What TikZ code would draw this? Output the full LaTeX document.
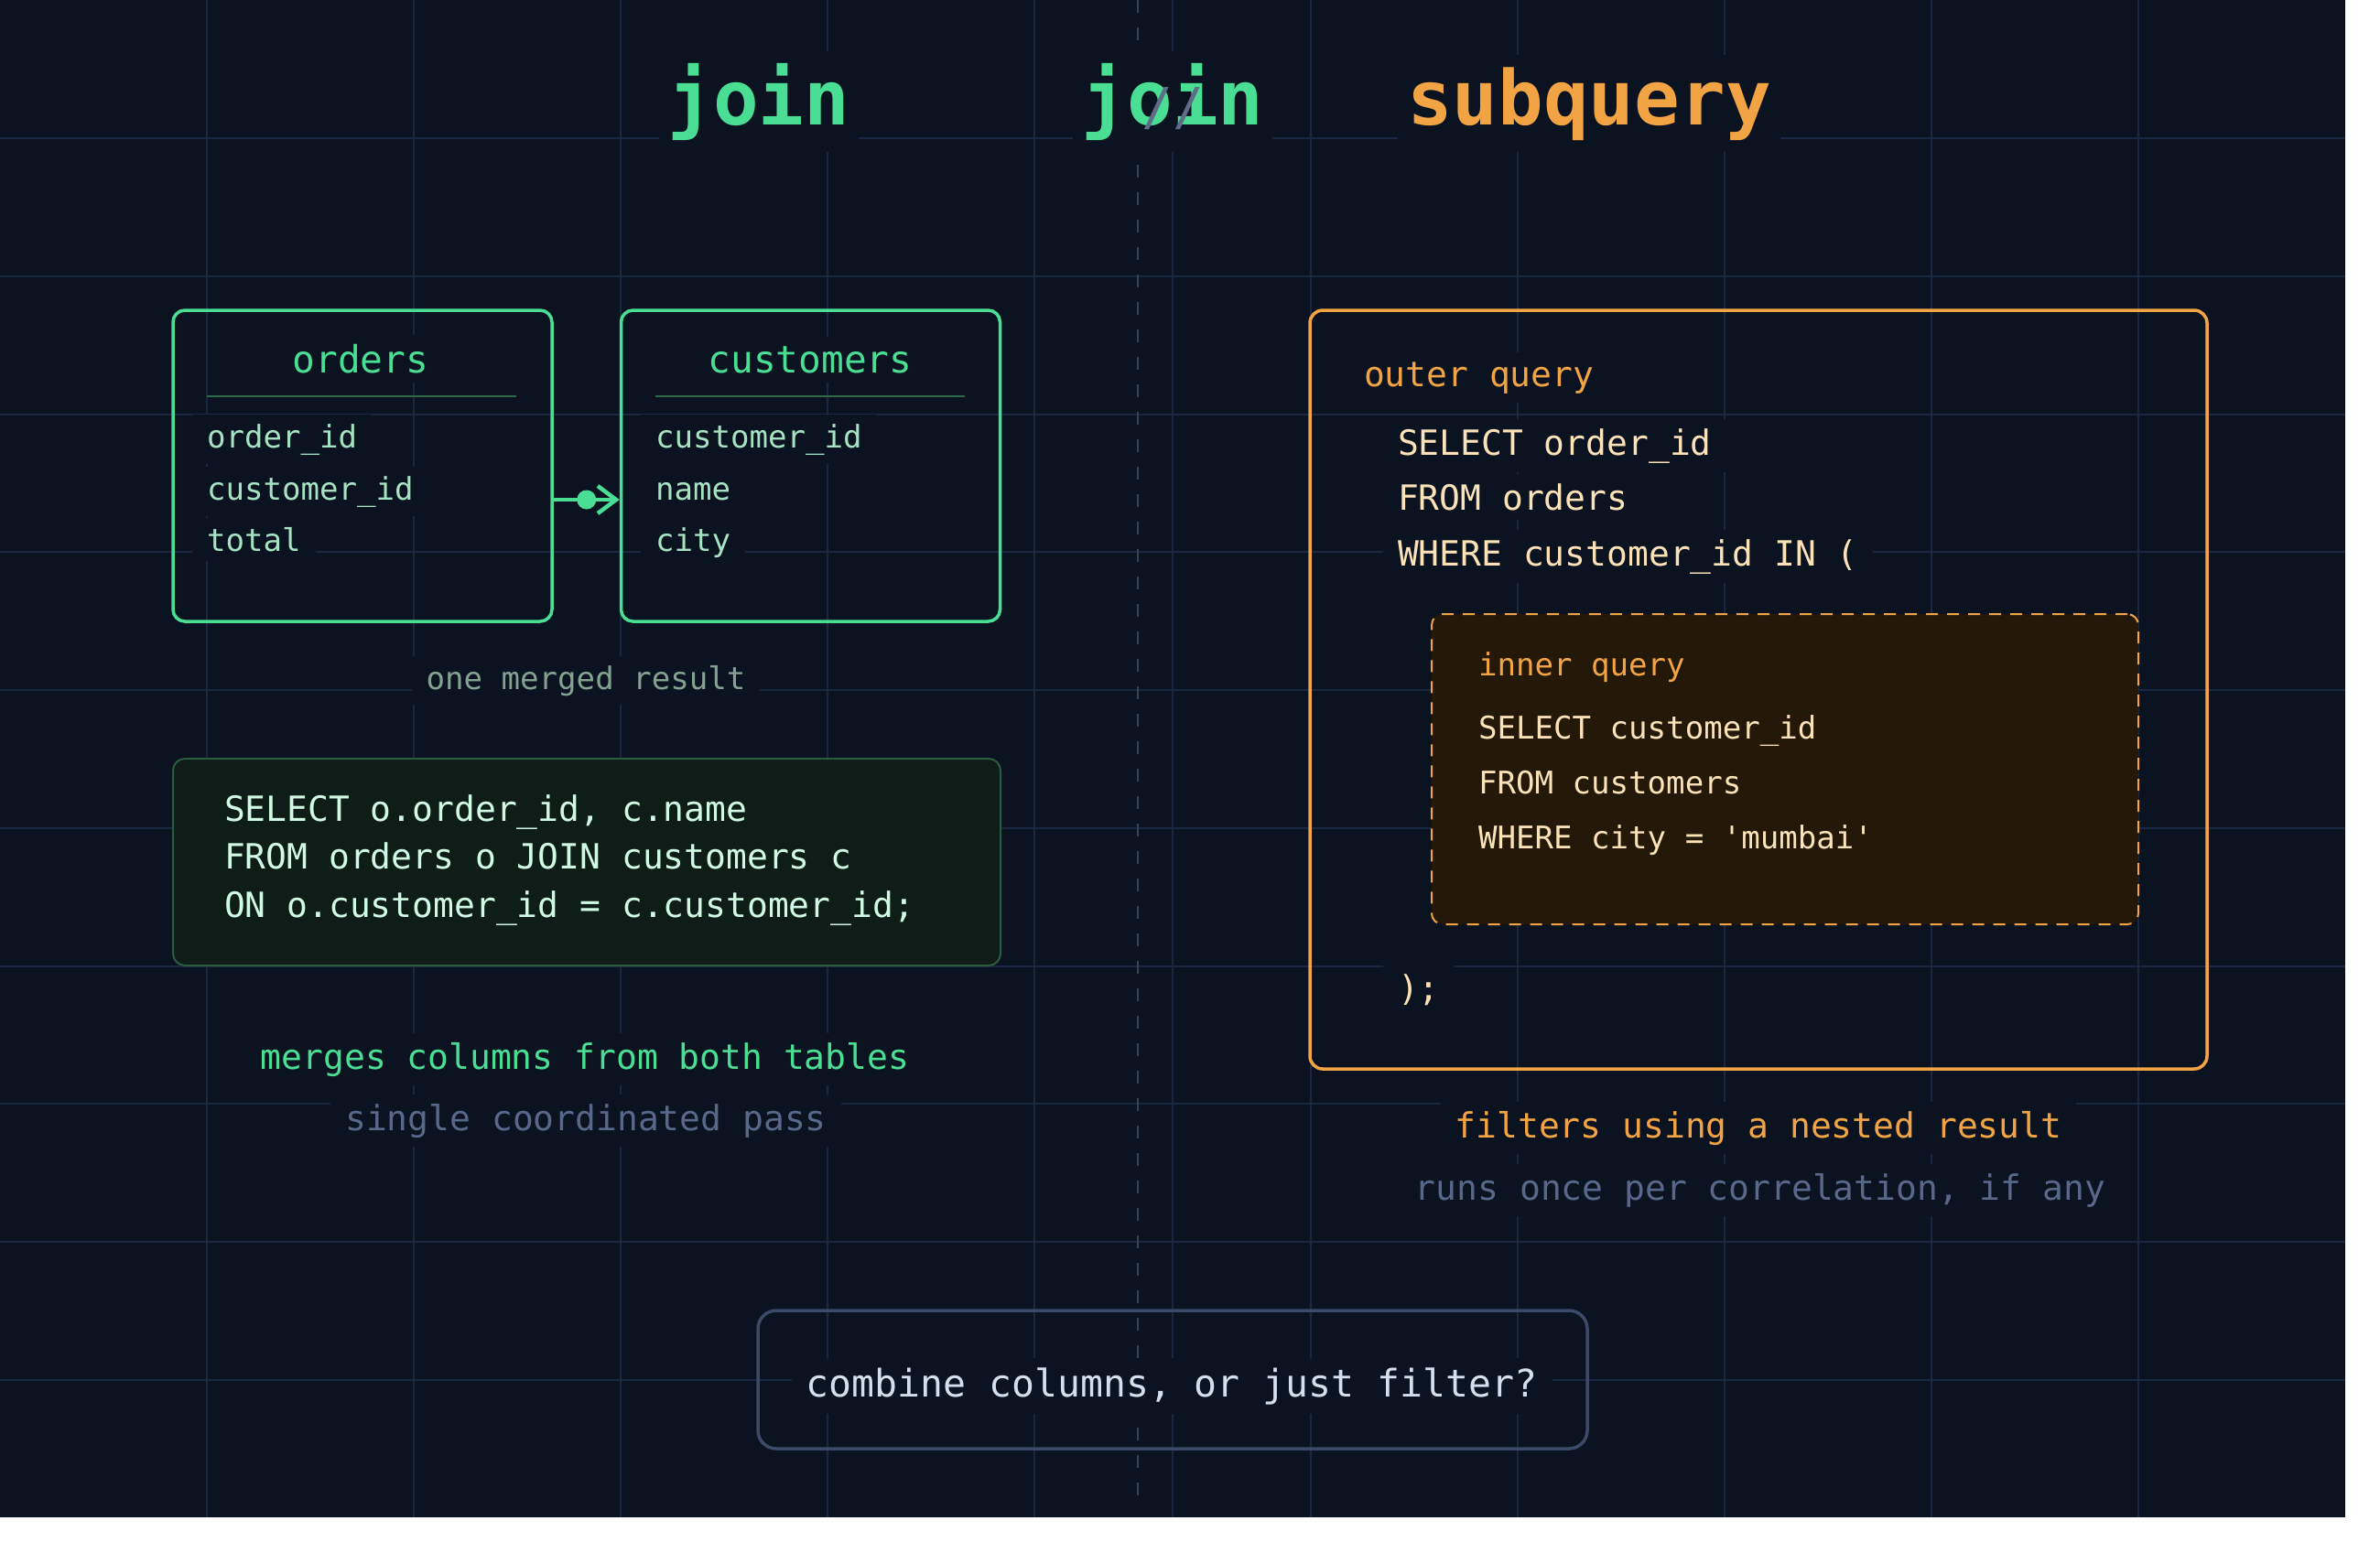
\documentclass[tikz,border=0pt]{standalone}
\usepackage{fontspec}
\setmonofont{DejaVu Sans Mono}
\usetikzlibrary{arrows.meta}

\definecolor{bg}{HTML}{0B1220}
\definecolor{gridc}{HTML}{1A2740}
\definecolor{divc}{HTML}{34425C}
\definecolor{joinc}{HTML}{4ADE95}
\definecolor{fieldc}{HTML}{A6E3C3}
\definecolor{sepc}{HTML}{2E6A4A}
\definecolor{codec}{HTML}{D1FAE5}
\definecolor{codebg}{HTML}{0F1D18}
\definecolor{codeln}{HTML}{2A5C40}
\definecolor{subc}{HTML}{F2A444}
\definecolor{peach}{HTML}{FCE2B8}
\definecolor{innerbg}{HTML}{241808}
\definecolor{mutec}{HTML}{58688A}
\definecolor{notec}{HTML}{83A292}
\definecolor{askln}{HTML}{3B4A66}
\definecolor{askc}{HTML}{D3DEEF}
\definecolor{slashc}{HTML}{5F6C88}

\newcommand{\setfs}[1]{\fontsize{#1}{#1}\selectfont}

\tikzset{
  gridline/.style={draw=gridc, line width=0.015cm},
  divider/.style={draw=divc, line width=0.02cm, dash pattern=on 0.14cm off 0.16cm},
  title/.style={font=\ttfamily\bfseries\setfs{23.5}, fill=bg, inner xsep=0.1cm, inner ysep=0.13cm, anchor=base},
  knock/.style={fill=bg, inner xsep=0.16cm, inner ysep=0.1cm},
  tablebox/.style={draw=joinc, line width=0.035cm, rounded corners=0.13cm,
    minimum width=4.14cm, minimum height=3.40cm, inner sep=0pt},
  tabtitle/.style={knock, font=\ttfamily\setfs{11.7}, text=joinc, anchor=base},
  field/.style={knock, font=\ttfamily\setfs{9.7}, text=fieldc, anchor=text},
  sepline/.style={draw=sepc, line width=0.015cm},
  fk/.style={draw=joinc, line width=0.045cm, -{Straight Barb[length=0.2cm,width=0.3cm]}},
  fkdot/.style={circle, fill=joinc, minimum size=0.21cm, inner sep=0pt},
  codebox/.style={draw=codeln, fill=codebg, line width=0.02cm, rounded corners=0.13cm, inner sep=0pt},
  joincode/.style={font=\ttfamily\setfs{10.8}, text=codec, anchor=text, inner sep=0pt},
  caption/.style={knock, font=\ttfamily\setfs{10.8}, anchor=base},
  note/.style={knock, font=\ttfamily\setfs{9.7}, text=notec, anchor=base},
  outerbox/.style={draw=subc, line width=0.035cm, rounded corners=0.14cm, inner sep=0pt},
  innerbox/.style={draw=subc, fill=innerbg, line width=0.02cm, rounded corners=0.12cm,
    dash pattern=on 0.13cm off 0.10cm, inner sep=0pt},
  outerlbl/.style={knock, font=\ttfamily\setfs{10.8}, text=subc, anchor=text},
  outercode/.style={knock, font=\ttfamily\setfs{10.8}, text=peach, anchor=text},
  innerlbl/.style={font=\ttfamily\setfs{9.7}, text=subc, anchor=text, inner sep=0pt},
  innercode/.style={font=\ttfamily\setfs{9.7}, text=peach, anchor=text, inner sep=0pt},
  askbox/.style={draw=askln, line width=0.035cm, rounded corners=0.2cm, inner sep=0pt},
}

\begin{document}
\begin{tikzpicture}[x=1cm,y=-1cm]
  \useasboundingbox (0,0) rectangle (26,16.96);
  \fill[white] (0,0) rectangle (26,16.96);
  \fill[bg] (0,0) rectangle (25.62,16.58);

  % grid behind everything
  \foreach \gx in {2.26,4.52,6.78,9.04,11.30,12.81,14.32,16.58,18.84,21.10,23.36}
    \draw[gridline] (\gx,0) -- (\gx,16.58);
  \foreach \gy in {1.51,3.02,4.53,6.03,7.54,9.05,10.56,12.06,13.57,15.08}
    \draw[gridline] (0,\gy) -- (25.62,\gy);
  \draw[divider] (12.43,0) -- (12.43,16.42);

  % headings
  \node[title, text=joinc] (hjoin) at (8.29,1.36) {join};
  \node[title, text=joinc] (hmid) at (12.81,1.36) {join};
  \node[font=\ttfamily\setfs{16}, text=slashc, inner sep=0pt] (hsep) at (12.81,1.185) {//};
  \node[title, text=subc] (hsub) at (17.36,1.36) {subquery};

  % join side: two tables
  \node[tablebox] (orders) at (3.96,5.09) {};
  \node[tablebox] (customers) at (8.855,5.09) {};
  \node[tabtitle] (ordersT) at (3.94,4.07) {orders};
  \node[tabtitle] (customersT) at (8.85,4.07) {customers};
  \draw[sepline] (2.26,4.33) -- (5.64,4.33);
  \draw[sepline] (7.16,4.33) -- (10.54,4.33);

  \node[field] (ooid) at (2.26,4.89) {order\_id};
  \node[field] (ocid) at (2.26,5.46) {customer\_id};
  \node[field] (ototal) at (2.26,6.02) {total};
  \node[field] (ccid) at (7.16,4.89) {customer\_id};
  \node[field] (cname) at (7.16,5.46) {name};
  \node[field] (ccity) at (7.16,6.02) {city};

  \draw[fk] (orders.east |- ocid.base) -- (customers.west |- ocid.base)
    node[fkdot, pos=0.5] (fkdot) {};

  \node[note] (merged) at (6.40,7.53) {one merged result};

  \node[codebox, minimum width=9.04cm, minimum height=2.26cm] (joinsql) at (6.41,9.42) {};
  \node[joincode] (jq1) at (2.45,8.97) {SELECT o.order\_id, c.name};
  \node[joincode] (jq2) at (2.45,9.49) {FROM orders o JOIN customers c};
  \node[joincode] (jq3) at (2.45,10.02) {ON o.customer\_id = c.customer\_id;};

  \node[caption, text=joinc] (joincap) at (6.39,11.68) {merges columns from both tables};
  \node[caption, text=mutec] (joinsub) at (6.40,12.35) {single coordinated pass};

  % subquery side
  \node[outerbox, minimum width=9.80cm, minimum height=8.29cm] (outer) at (19.21,7.535) {};
  \node[outerlbl] (outerT) at (14.90,4.22) {outer query};
  \node[outercode] (oq1) at (15.27,4.97) {SELECT order\_id};
  \node[outercode] (oq2) at (15.27,5.57) {FROM orders};
  \node[outercode] (oq3) at (15.27,6.18) {WHERE customer\_id IN (};

  \node[innerbox, minimum width=7.72cm, minimum height=3.39cm] (inner) at (19.50,8.405) {};
  \node[innerlbl] (innerT) at (16.15,7.38) {inner query};
  \node[innercode] (iq1) at (16.15,8.07) {SELECT customer\_id};
  \node[innercode] (iq2) at (16.15,8.67) {FROM customers};
  \node[innercode] (iq3) at (16.15,9.27) {WHERE city = 'mumbai'};

  \node[outercode] (oq4) at (15.27,10.93) {);};

  \node[caption, text=subc] (subcap) at (19.21,12.43) {filters using a nested result};
  \node[caption, text=mutec] (subsub) at (19.23,13.11) {runs once per correlation, if any};

  % question at the bottom
  \node[askbox, minimum width=9.06cm, minimum height=1.51cm] (ask) at (12.81,15.075) {};
  \node[caption, text=askc, font=\ttfamily\setfs{11.8}] (askT) at (12.80,15.26) {combine columns, or just filter?};
\end{tikzpicture}
\end{document}
